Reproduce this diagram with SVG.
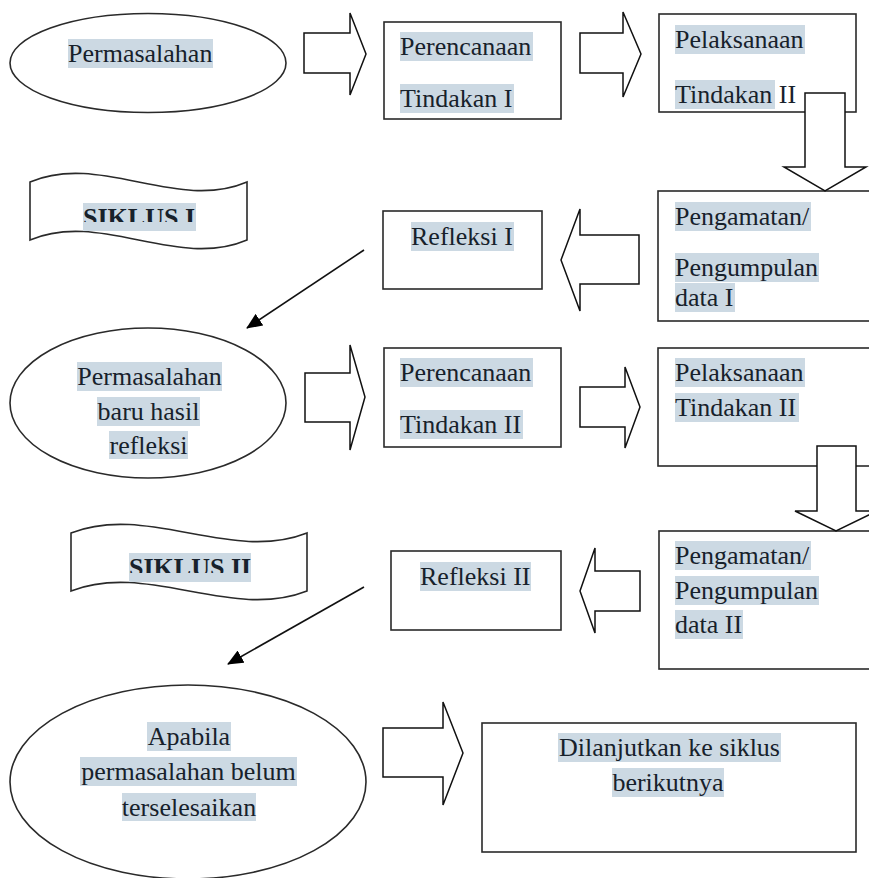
<svg xmlns="http://www.w3.org/2000/svg" width="869" height="878" viewBox="0 0 869 878">
<style>
.sh{fill:#fff;stroke:#2a2a2a;stroke-width:1.6}
.ar{fill:#fff;stroke:#111;stroke-width:1.5;stroke-linejoin:miter}
.hl{fill:#ccd9e3}
.t{font-family:"Liberation Serif","Times New Roman",serif;font-size:26px;fill:#17212b}
.c{text-anchor:middle}
.b{font-weight:bold}
.ln{stroke:#111;stroke-width:1.6;fill:none}
</style>
<defs>
<marker id="ah" markerUnits="userSpaceOnUse" markerWidth="16" markerHeight="14" refX="15" refY="7" orient="auto">
<path d="M0,0 L16,7 L0,14 Z" fill="#000"/>
</marker>
<clipPath id="cp1"><rect x="0" y="150" width="300" height="72"/></clipPath>
<clipPath id="cp2"><rect x="0" y="500" width="320" height="73"/></clipPath>
</defs>
<rect width="869" height="878" fill="#fff"/>

<g id="n-permasalahan">
<ellipse class="sh" cx="148" cy="63" rx="138" ry="49.5"/>
<rect class="hl" x="68" y="39" width="145" height="29"/>
<text class="t" x="68" y="62">Permasalahan</text>
</g>

<g id="n-perencanaan1">
<rect class="sh" x="384" y="22" width="177" height="97"/>
<rect class="hl" x="400" y="32" width="133" height="29"/>
<text class="t" x="400" y="55">Perencanaan</text>
<rect class="hl" x="400" y="84" width="114" height="29"/>
<text class="t" x="400" y="107">Tindakan I</text>
</g>

<g id="n-pelaksanaan1">
<rect class="sh" x="659" y="14" width="197" height="98"/>
<rect class="hl" x="675" y="25" width="130" height="29"/>
<text class="t" x="675" y="48">Pelaksanaan</text>
<rect class="hl" x="675" y="80" width="100" height="29"/>
<text class="t" x="675" y="103">Tindakan II</text>
</g>

<g id="n-pengamatan1">
<rect class="sh" x="658" y="191" width="230" height="130"/>
<rect class="hl" x="675" y="202" width="136" height="29"/>
<text class="t" x="675" y="225">Pengamatan/</text>
<rect class="hl" x="675" y="253" width="144" height="29"/>
<text class="t" x="675" y="276">Pengumpulan</text>
<rect class="hl" x="675" y="283" width="60" height="29"/>
<text class="t" x="675" y="306">data I</text>
</g>

<g id="n-refleksi1">
<rect class="sh" x="383" y="211" width="159" height="78"/>
<rect class="hl" x="411" y="222" width="103" height="29"/>
<text class="t" x="411" y="245">Refleksi I</text>
</g>

<g id="n-siklus1">
<path class="sh" d="M30,182 C100,152 177,212 247,182 L247,240 C177,270 100,210 30,240 Z"/>
<rect class="hl" x="83" y="203" width="113" height="28"/>
<text class="t b" x="83" y="226" clip-path="url(#cp1)">SIKLUS I</text>
</g>

<g id="n-permasalahan-baru">
<ellipse class="sh" cx="148" cy="403" rx="138" ry="75"/>
<rect class="hl" x="77" y="362" width="145" height="29"/>
<text class="t c" x="149.5" y="385">Permasalahan</text>
<rect class="hl" x="97" y="397" width="103" height="29"/>
<text class="t c" x="148.5" y="420">baru hasil</text>
<rect class="hl" x="109" y="431" width="79" height="28"/>
<text class="t c" x="148.5" y="454">refleksi</text>
</g>

<g id="n-perencanaan2">
<rect class="sh" x="384" y="348" width="177" height="99"/>
<rect class="hl" x="400" y="358" width="133" height="29"/>
<text class="t" x="400" y="381">Perencanaan</text>
<rect class="hl" x="400" y="410" width="123" height="29"/>
<text class="t" x="400" y="433">Tindakan II</text>
</g>

<g id="n-pelaksanaan2">
<rect class="sh" x="658" y="348" width="230" height="118"/>
<rect class="hl" x="675" y="358" width="130" height="29"/>
<text class="t" x="675" y="381">Pelaksanaan</text>
<rect class="hl" x="675" y="393" width="124" height="29"/>
<text class="t" x="675" y="416">Tindakan II</text>
</g>

<g id="n-pengamatan2">
<rect class="sh" x="659" y="531" width="230" height="138"/>
<rect class="hl" x="675" y="541" width="136" height="29"/>
<text class="t" x="675" y="564">Pengamatan/</text>
<rect class="hl" x="675" y="576" width="144" height="29"/>
<text class="t" x="675" y="599">Pengumpulan</text>
<rect class="hl" x="675" y="610" width="68" height="29"/>
<text class="t" x="675" y="633">data II</text>
</g>

<g id="n-refleksi2">
<rect class="sh" x="391" y="551" width="170" height="79"/>
<rect class="hl" x="420" y="562" width="111" height="29"/>
<text class="t" x="420" y="585">Refleksi II</text>
</g>

<g id="n-siklus2">
<path class="sh" d="M71,533 C147,503 231,563 307,533 L307,591 C231,621 147,561 71,591 Z"/>
<rect class="hl" x="129" y="553" width="122" height="29"/>
<text class="t b" x="129" y="576" clip-path="url(#cp2)">SIKLUS II</text>
</g>

<g id="n-apabila">
<ellipse class="sh" cx="188" cy="782" rx="178" ry="97"/>
<rect class="hl" x="147" y="722" width="84" height="29"/>
<text class="t c" x="189" y="745">Apabila</text>
<rect class="hl" x="80" y="757" width="217" height="29"/>
<text class="t c" x="188.5" y="780">permasalahan belum</text>
<rect class="hl" x="122" y="793" width="134" height="28"/>
<text class="t c" x="189" y="816">terselesaikan</text>
</g>

<g id="n-dilanjutkan">
<rect class="sh" x="482" y="723" width="374" height="129"/>
<rect class="hl" x="558" y="733" width="223" height="29"/>
<text class="t c" x="669.5" y="756">Dilanjutkan ke siklus</text>
<rect class="hl" x="612" y="768" width="112" height="29"/>
<text class="t c" x="668" y="791">berikutnya</text>
</g>

<g id="connectors">
<polygon class="ar" points="304,33 350,33 350,13 366,54 350,95 350,73 304,73"/>
<polygon class="ar" points="580,33 623,33 623,12 641,54 623,97 623,73 580,73"/>
<polygon class="ar" points="805,93 845,93 845,167 866,167 825,191 784,167 805,167"/>
<polygon class="ar" points="639,235 580,235 580,209 561,260 580,311 580,284 639,284"/>
<line class="ln" x1="364" y1="250" x2="247" y2="328" marker-end="url(#ah)"/>
<polygon class="ar" points="305,373 350,373 350,345 365,397 350,450 350,422 305,422"/>
<polygon class="ar" points="580,387 625,387 625,367 640,407 625,448 625,427 580,427"/>
<polygon class="ar" points="817,446 856,446 856,511 877,511 836,531 795,511 817,511"/>
<polygon class="ar" points="640,571 595,571 595,548 580,591 595,633 595,611 640,611"/>
<line class="ln" x1="364" y1="587" x2="228" y2="664" marker-end="url(#ah)"/>
<polygon class="ar" points="383,728 443,728 443,702 463,753 443,805 443,777 383,777"/>
</g>
</svg>
